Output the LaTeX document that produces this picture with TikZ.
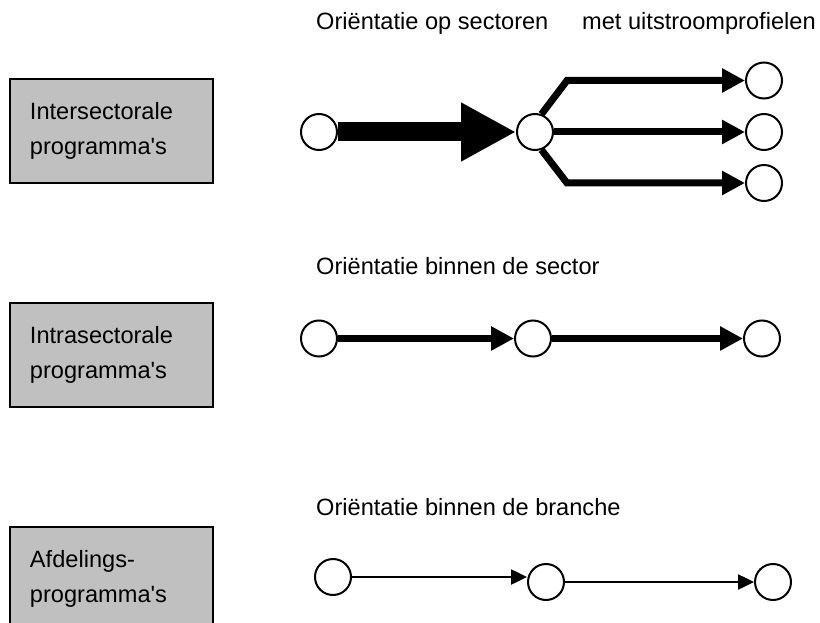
\documentclass[tikz,border=0pt]{standalone}
\usepackage{fontspec}
\setmainfont{Liberation Sans}[Ligatures=TeXOff]
\usetikzlibrary{arrows.meta}
\definecolor{boxgray}{HTML}{C0C0C0}
\begin{document}
\begin{tikzpicture}[x=1pt,y=-1pt,
  bub/.style={circle, draw, line width=2pt, fill=white, minimum size=36pt, inner sep=0pt},
  prog/.style={draw, line width=2pt, fill=boxgray, minimum width=203.5pt, minimum height=104pt,
    text width=162.5pt, inner xsep=20.5pt, inner ysep=0pt, align=left, anchor=north west,
    font=\fontsize{23.6pt}{35pt}\selectfont},
  lab/.style={anchor=base west, inner sep=0pt, font=\fontsize{23.6pt}{28pt}\selectfont},
  bigarr/.style={line width=19pt, -{Triangle[length=55pt 0 0, width=55pt 0 0]}},
  midarr/.style={line width=7pt, line join=miter, -{Triangle[length=23pt 0 0, width=23pt 0 0]}},
  thinarr/.style={line width=2.5pt, -{Triangle[length=16pt 0 0, width=15pt 0 0]}}]
\useasboundingbox (0,0) rectangle (820,623);
\clip (0,0) rectangle (820,623);

% boxes
\node[prog] (P1) at (8.5,78) {Intersectorale\\programma's};
\node[prog] (P2) at (8.5,302) {Intrasectorale\\programma's};
\node[prog] (P3) at (8.5,526) {Afdelings-\\programma's};

% headings
\node[lab] (H1) at (316,30) {Oriëntatie op sectoren};
\node[lab] (H2) at (582,30) {met uitstroomprofielen};
\node[lab] (H3) at (316,274) {Oriëntatie binnen de sector};
\node[lab] (H4) at (316,515) {Oriëntatie binnen de branche};

% row 1
\node[bub] (A) at (319,132) {};
\node[bub] (B) at (535,132) {};
\node[bub] (C1) at (764,80.5) {};
\node[bub] (C2) at (764,132) {};
\node[bub] (C3) at (764,183) {};
\coordinate (u1) at (567,80.5);
\coordinate (u3) at (567,183);
\draw[bigarr] (A) -- (B);
\draw[midarr] (B.70) -- (u1) -- (C1);
\draw[midarr] (B) -- (C2);
\draw[midarr] (B.-70) -- (u3) -- (C3);

% row 2
\node[bub] (D1) at (319,338.5) {};
\node[bub] (D2) at (533,338.5) {};
\node[bub] (D3) at (762,338.5) {};
\draw[midarr] (D1) -- (D2);
\draw[midarr] (D2) -- (D3);

% row 3
\node[bub] (E1) at (333,577) {};
\node[bub] (E2) at (546,582) {};
\node[bub] (E3) at (773,582) {};
\draw[thinarr] (E1) -- (E1 -| E2.west);
\draw[thinarr] (E2) -- (E3);
\end{tikzpicture}
\end{document}
